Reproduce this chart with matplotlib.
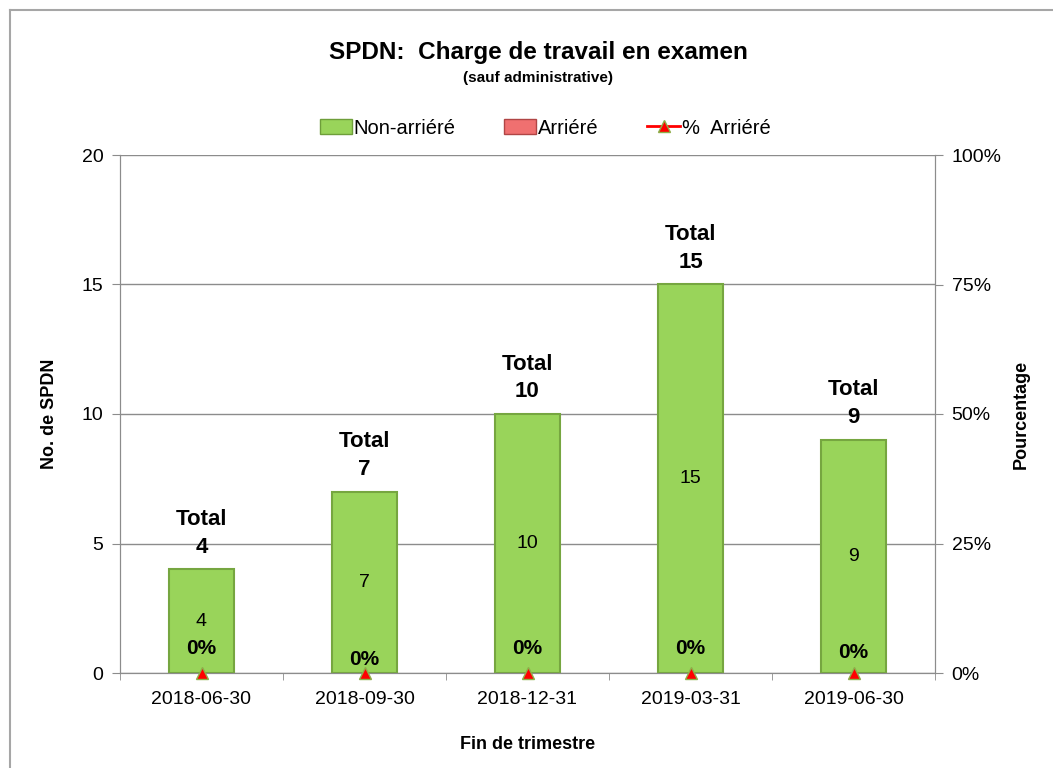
import matplotlib
matplotlib.use("Agg")
import matplotlib.pyplot as plt
from matplotlib.lines import Line2D
from matplotlib.patches import Patch
import numpy as np

plt.rcParams['font.family'] = ['Liberation Sans', 'DejaVu Sans']

categories = ["2018-06-30", "2018-09-30", "2018-12-31", "2019-03-31", "2019-06-30"]
non_arriere = [4, 7, 10, 15, 9]
arriere = [0, 0, 0, 0, 0]
pct_arriere = [0, 0, 0, 0, 0]
totals = [a + b for a, b in zip(non_arriere, arriere)]
pct_label_offsets = [18, 9.5, 18, 18, 15]  # points above the baseline (label centre)

fig = plt.figure(figsize=(10.53, 7.68), dpi=100)
ax = fig.add_axes([120/1053, 1-673/768, 815/1053, 518/768])
x = np.arange(len(categories))

green = '#99D45A'
ax.bar(x, non_arriere, width=0.4, color=green, edgecolor='#76A640', linewidth=1.5, zorder=3)
ax.bar(x, arriere, bottom=non_arriere, width=0.4, color='#F07070',
       edgecolor='#B04545', linewidth=[1.0 if v > 0 else 0 for v in arriere], zorder=3)

ax.set_xlim(-0.5, len(categories) - 0.5)
ax.set_ylim(0, 20)
ax.set_yticks([0, 5, 10, 15, 20])
ax.yaxis.grid(True, color='#8C8C8C', linewidth=1.0, zorder=0)
ax.set_axisbelow(True)
ax.set_xticks(x)
ax.set_xticklabels(categories, fontsize=14)
ax.tick_params(axis='x', length=0, pad=13)
ax.set_xticks(np.arange(-0.5, len(categories), 1.0), minor=True)
ax.tick_params(axis='x', which='minor', length=5, color='#8C8C8C')
ax.tick_params(axis='y', labelsize=14, length=6, color='#8C8C8C', pad=6)
ax.spines['top'].set_visible(False)
for s in ['left', 'bottom', 'right']:
    ax.spines[s].set_color('#8C8C8C')

ax.set_ylabel("No. de SPDN", fontsize=13, fontweight='bold', labelpad=17)
ax.set_xlabel("Fin de trimestre", fontsize=13, fontweight='bold', labelpad=20)

ax2 = ax.twinx()
ax2.set_ylim(0, 1)
ax2.set_yticks([0, 0.25, 0.5, 0.75, 1.0])
ax2.set_yticklabels(["0%", "25%", "50%", "75%", "100%"])
ax2.tick_params(axis='y', labelsize=14, length=6, color='#8C8C8C', pad=6)
ax2.spines['top'].set_visible(False)
for s in ['left', 'bottom', 'right']:
    ax2.spines[s].set_color('#8C8C8C')
ax2.set_ylabel("Pourcentage", fontsize=13, fontweight='bold', labelpad=8)
ax2.plot(x, pct_arriere, linestyle='none', marker='^', markersize=9,
         markerfacecolor='red', markeredgecolor='#8DB04A', markeredgewidth=1,
         clip_on=False, zorder=5)

for i in range(len(categories)):
    ax.annotate(f"{totals[i]}", (x[i], totals[i]), xytext=(0, 16),
                textcoords='offset points', ha='center', va='center',
                fontsize=16, fontweight='bold')
    ax.annotate("Total", (x[i], totals[i]), xytext=(0, 36),
                textcoords='offset points', ha='center', va='center',
                fontsize=16, fontweight='bold')
    ax.text(x[i], non_arriere[i] / 2, f"{non_arriere[i]}", ha='center', va='center',
            fontsize=14, zorder=6)
    ax.annotate(f"{pct_arriere[i]:.0%}", (x[i], 0), xytext=(0, pct_label_offsets[i]),
                textcoords='offset points', ha='center', va='center',
                fontsize=15, fontweight='bold', zorder=6)

fig.text(538/1053, 1-53/768, "SPDN:  Charge de travail en examen", ha='center', va='center',
         fontsize=17.5, fontweight='bold')
fig.text(538/1053, 1-78/768, "(sauf administrative)", ha='center', va='center',
         fontsize=11, fontweight='bold')

handles = [Patch(facecolor=green, edgecolor='#6E9E3A'),
           Patch(facecolor='#F07070', edgecolor='#B04545'),
           Line2D([0], [0], color='red', linewidth=2, marker='^', markersize=8,
                  markerfacecolor='red', markeredgecolor='#8DB04A')]
fig.legend(handles, ["Non-arriéré", "Arriéré", "%  Arriéré"], loc='center',
           bbox_to_anchor=(545/1053, 1-128/768), ncol=3, frameon=False, fontsize=14.5,
           columnspacing=2.4, handlelength=1.6, handletextpad=0.1)

# outer border
fig.add_artist(Line2D([10/1053, 10/1053], [0, 1-10/768], transform=fig.transFigure,
                      color='#A6A6A6', linewidth=1.5))
fig.add_artist(Line2D([10/1053, 1], [1-10/768, 1-10/768], transform=fig.transFigure,
                      color='#A6A6A6', linewidth=1.5))

fig.savefig("out.png", dpi=100)
